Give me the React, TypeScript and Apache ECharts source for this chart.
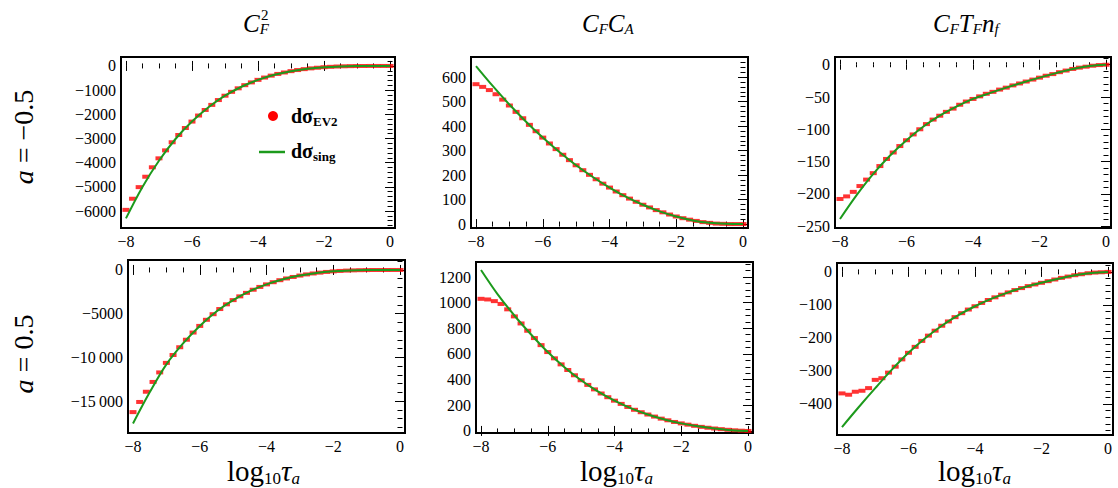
import React, { useEffect, useRef } from "react";
import * as echarts from "echarts";

// sample positions (log10 tau_a)
const xGreen = [-8, -7.5, -7, -6.5, -6, -5.5, -5, -4.5, -4, -3.5, -3, -2.5, -2, -1.5, -1, -0.5, 0];
const xRed = [-8, -7.8, -7.6, -7.4, -7.2, -7, -6.8, -6.6, -6.4, -6.2, -6, -5.8, -5.6, -5.4, -5.2, -5, -4.8, -4.6, -4.4, -4.2, -4, -3.8, -3.6, -3.4, -3.2, -3, -2.8, -2.6, -2.4, -2.2, -2, -1.8, -1.6, -1.4, -1.2, -1, -0.8, -0.6, -0.4, -0.2, 0];

// a = -0.5
const greenCF2Neg = [-6300, -5000, -3920, -3020, -2300, -1710, -1230, -860, -575, -365, -215, -115, -52, -18, -4, 0, 0];
const redCF2Neg = [-5950, -5490, -5010, -4580, -4190, -3820, -3490, -3155, -2855, -2565, -2300, -2050, -1820, -1610, -1410, -1230, -1070, -925, -795, -680, -575, -480, -400, -330, -270, -215, -170, -132, -100, -74, -52, -36, -23, -14, -8, -4, -1, 0, 0, 0, 0];
const greenCFCANeg = [645, 564, 488, 418, 353, 294, 240, 192, 149, 111, 79, 52, 31, 15, 5, 1, 0];
const redCFCANeg = [571, 560, 547, 530, 508, 484, 458, 432, 405, 379, 353, 329, 306, 283, 261, 240, 220, 201, 183, 165, 149, 133, 118, 104, 91, 79, 68, 57, 48, 39, 31, 24, 18, 13, 8, 5, 2, 1, 0, 0, 0];
const greenNFNeg = [-239, -202, -169, -141, -117, -96, -79, -65, -53, -44, -35.5, -27.5, -20, -13, -6.5, -2, 0];
const redNFNeg = [-208, -204, -197, -188, -178, -168, -157, -146, -136, -126, -117, -108, -100, -92, -85, -79, -73, -68, -62, -57, -53, -49, -45, -42, -38.5, -35.5, -32, -29, -26, -23, -20, -17, -14.5, -11.5, -9, -6.5, -4.5, -3, -1.5, -0.5, 0];

// a = 0.5
const greenCF2Pos = [-17560, -14000, -10800, -8400, -6400, -4750, -3450, -2420, -1650, -1060, -640, -340, -160, -60, -14, -1, 0];
const redCF2Pos = [-16260, -15100, -13930, -12810, -11720, -10630, -9730, -8840, -7980, -7160, -6400, -5700, -5060, -4470, -3930, -3450, -3020, -2620, -2260, -1940, -1650, -1400, -1170, -970, -800, -640, -510, -400, -305, -225, -160, -110, -72, -45, -25, -14, -6, -2, -1, 0, 0];
const greenCFCAPos = [1255, 1065, 900, 752, 615, 497, 395, 308, 236, 176, 128, 89, 59, 36, 19, 6, 0];
const redCFCAPos = [1030, 1025, 1012, 990, 948, 893, 838, 781, 724, 669, 615, 566, 519, 475, 434, 395, 359, 324, 292, 263, 236, 211, 187, 165, 146, 128, 112, 96, 83, 70, 59, 49, 40, 32, 25, 19, 14, 9, 5, 2, 0];
const greenNFPos = [-470, -410, -352, -296, -245, -201, -163, -131, -104, -81, -62, -46, -33, -21, -10, -3, 0];
const redNFPos = [-368, -372, -363, -360, -352, -327, -322, -305, -287, -265, -245, -227, -209, -193, -178, -163, -150, -137, -125, -114, -104, -94, -85, -77, -69, -62, -55, -49, -43, -38, -33, -28, -23, -18, -14, -10, -7, -4, -2, -1, 0];

// tick labels
const xTicks = [-8, -6, -4, -2, 0];
const yTicksCF2Neg = [0, -1000, -2000, -3000, -4000, -5000, -6000];
const yTicksCFCANeg = [0, 100, 200, 300, 400, 500, 600];
const yTicksNFNeg = [0, -50, -100, -150, -200, -250];
const yTicksCF2Pos = [0, -5000, -10000, -15000];
const yTicksCFCAPos = [0, 200, 400, 600, 800, 1000, 1200];
const yTicksNFPos = [0, -100, -200, -300, -400];

const SERIF = "Liberation Serif";
const RED = "#ff0000";
const GREEN = "#1c9a1c";

const panels = [
  { rect: { left: 121, top: 57, width: 274, height: 171 }, ymin: -6700, ymax: 370, yTicks: yTicksCF2Neg, yMinor: 200, green: greenCF2Neg, red: redCF2Neg },
  { rect: { left: 471, top: 57, width: 277, height: 171 }, ymin: -16, ymax: 682, yTicks: yTicksCFCANeg, yMinor: 20, green: greenCFCANeg, red: redCFCANeg },
  { rect: { left: 835, top: 57, width: 276, height: 171 }, ymin: -253, ymax: 12, yTicks: yTicksNFNeg, yMinor: 10, green: greenNFNeg, red: redNFNeg },
  { rect: { left: 128, top: 260, width: 277, height: 173 }, ymin: -18650, ymax: 1140, yTicks: yTicksCF2Pos, yMinor: 1000, green: greenCF2Pos, red: redCF2Pos },
  { rect: { left: 476, top: 262, width: 277, height: 171 }, ymin: -16, ymax: 1317, yTicks: yTicksCFCAPos, yMinor: 50, green: greenCFCAPos, red: redCFCAPos },
  { rect: { left: 837, top: 263, width: 276, height: 172 }, ymin: -494, ymax: 27, yTicks: yTicksNFPos, yMinor: 20, green: greenNFPos, red: redNFPos },
];

const XMIN = -8.15;
const XMAX = 0.15;

function fmt(v: number): string {
  let s = String(Math.abs(v));
  if (s.length > 4) s = s.slice(0, s.length - 3) + "\u2009" + s.slice(-3);
  return (v < 0 ? "\u2212" : "") + s;
}

function minorValues(min: number, max: number, step: number, majors: number[]): number[] {
  const out: number[] = [];
  const start = Math.ceil(min / step);
  for (let k = start; k * step <= max + 1e-9; k++) {
    const v = Math.round(k * step * 1e6) / 1e6;
    if (!majors.some((m) => Math.abs(m - v) < 1e-9)) out.push(v);
  }
  return out;
}

function buildOption() {
  const grid: any[] = [];
  const xAxis: any[] = [];
  const yAxis: any[] = [];
  const series: any[] = [];
  const tickLine = { color: "#000", width: 1 };
  const label = { fontFamily: SERIF, fontSize: 16, color: "#000" };

  panels.forEach((p, i) => {
    grid.push({ ...p.rect, show: true, borderColor: "#000", borderWidth: 2, backgroundColor: "transparent", containLabel: false });
    const xMinor = minorValues(XMIN, XMAX, 0.5, xTicks);
    const yMinor = minorValues(p.ymin, p.ymax, p.yMinor, p.yTicks);
    const xb = { type: "value", gridIndex: i, min: XMIN, max: XMAX, splitLine: { show: false }, axisLine: { show: false } };
    const yb = { type: "value", gridIndex: i, min: p.ymin, max: p.ymax, splitLine: { show: false }, axisLine: { show: false } };
    const pos = [
      ["bottom", "left", true],
      ["top", "right", false],
    ];
    pos.forEach(([xp, yp, withLabel]) => {
      xAxis.push({
        ...xb,
        position: xp,
        axisTick: { show: true, inside: true, length: 5, customValues: xTicks, lineStyle: tickLine },
        axisLabel: withLabel ? { show: true, customValues: xTicks, formatter: fmt, margin: 5, ...label } : { show: false },
      });
      xAxis.push({
        ...xb,
        position: xp,
        axisTick: { show: true, inside: true, length: 2.5, customValues: xMinor, lineStyle: tickLine },
        axisLabel: { show: false },
      });
      yAxis.push({
        ...yb,
        position: yp,
        axisTick: { show: true, inside: true, length: 5, customValues: p.yTicks, lineStyle: tickLine },
        axisLabel: withLabel ? { show: true, customValues: p.yTicks, formatter: fmt, margin: 5, ...label } : { show: false },
      });
      yAxis.push({
        ...yb,
        position: yp,
        axisTick: { show: true, inside: true, length: 2.5, customValues: yMinor, lineStyle: tickLine },
        axisLabel: { show: false },
      });
    });
    series.push({
      type: "scatter",
      xAxisIndex: i * 4,
      yAxisIndex: i * 4,
      data: xRed.map((x, k) => [x, p.red[k]]),
      symbol: "rect",
      symbolSize: [7, 4],
      itemStyle: { color: RED },
      z: 2,
      silent: true,
    });
    series.push({
      type: "line",
      xAxisIndex: i * 4,
      yAxisIndex: i * 4,
      data: xGreen.map((x, k) => [x, p.green[k]]),
      smooth: 0.35,
      showSymbol: false,
      lineStyle: { color: GREEN, width: 2 },
      z: 3,
      silent: true,
    });
  });

  const titleRich = {
    m: { fontSize: 25, fontStyle: "italic", fontFamily: SERIF, lineHeight: 26, color: "#000" },
    s: { fontSize: 15, fontStyle: "italic", fontFamily: SERIF, lineHeight: 15, verticalAlign: "bottom", color: "#000" },
  };
  const axRich = {
    m: { fontSize: 29, fontFamily: SERIF, lineHeight: 32, color: "#000" },
    mi: { fontSize: 29, fontStyle: "italic", fontFamily: SERIF, lineHeight: 32, color: "#000" },
    s: { fontSize: 17, fontFamily: SERIF, lineHeight: 17, verticalAlign: "bottom", color: "#000" },
    si: { fontSize: 17, fontStyle: "italic", fontFamily: SERIF, lineHeight: 17, verticalAlign: "bottom", color: "#000" },
  };
  const legRich = {
    b: { fontSize: 20, fontWeight: "bold", fontFamily: SERIF, lineHeight: 24, color: "#000" },
    s: { fontSize: 13, fontWeight: "bold", fontFamily: SERIF, lineHeight: 13, verticalAlign: "bottom", color: "#000" },
  };
  const rowRich = {
    i: { fontSize: 28, fontStyle: "italic", fontFamily: SERIF, color: "#000" },
    n: { fontSize: 28, fontFamily: SERIF, color: "#000" },
  };

  const txt = (x: number, y: number, text: string, rich: any) => ({
    type: "text",
    x,
    y,
    style: { text, rich, align: "left", verticalAlign: "middle", fill: "#000" },
    silent: true,
  });

  const graphic: any[] = [
    txt(243, 23.5, "{m|C}{s|F}", titleRich),
    { type: "text", x: 261, y: 15, silent: true, style: { text: "2", fontSize: 15, fontFamily: SERIF, fill: "#000", align: "left", verticalAlign: "middle" } },
    txt(582, 23.5, "{m|C}{s|F}{m|C}{s|A}", titleRich),
    txt(933, 23.5, "{m|C}{s|F}{m|T}{s|F}{m|n}{s|f}", titleRich),
    { type: "text", x: 23, y: 137, rotation: Math.PI / 2, silent: true, style: { text: "{i|a}{n|\u2005=\u2005\u22120.5}", rich: rowRich, align: "center", verticalAlign: "middle", fill: "#000" } },
    { type: "text", x: 23, y: 354, rotation: Math.PI / 2, silent: true, style: { text: "{i|a}{n|\u2005=\u20050.5}", rich: rowRich, align: "center", verticalAlign: "middle", fill: "#000" } },
    txt(227, 471, "{m|log}{s|10}{mi|\u03c4}{si|a}", axRich),
    txt(580, 471, "{m|log}{s|10}{mi|\u03c4}{si|a}", axRich),
    txt(938, 471, "{m|log}{s|10}{mi|\u03c4}{si|a}", axRich),
    { type: "circle", shape: { cx: 273, cy: 116, r: 5 }, style: { fill: RED }, silent: true },
    txt(291, 116, "{b|d\u03c3}{s|EV2}", legRich),
    { type: "line", shape: { x1: 259, y1: 152, x2: 285, y2: 152 }, style: { stroke: GREEN, lineWidth: 2.5 }, silent: true },
    txt(291, 151, "{b|d\u03c3}{s|sing}", legRich),
  ];

  return { animation: false, backgroundColor: "#fff", grid, xAxis, yAxis, series, graphic };
}

export default function App() {
  const ref = useRef<HTMLDivElement>(null);
  useEffect(() => {
    if (!ref.current) return;
    const chart = echarts.init(ref.current, undefined, { renderer: "svg" });
    chart.setOption(buildOption() as any);
    return () => chart.dispose();
  }, []);
  return <div ref={ref} style={{ position: "absolute", left: 0, top: 0, width: 1118, height: 488 }} />;
}
